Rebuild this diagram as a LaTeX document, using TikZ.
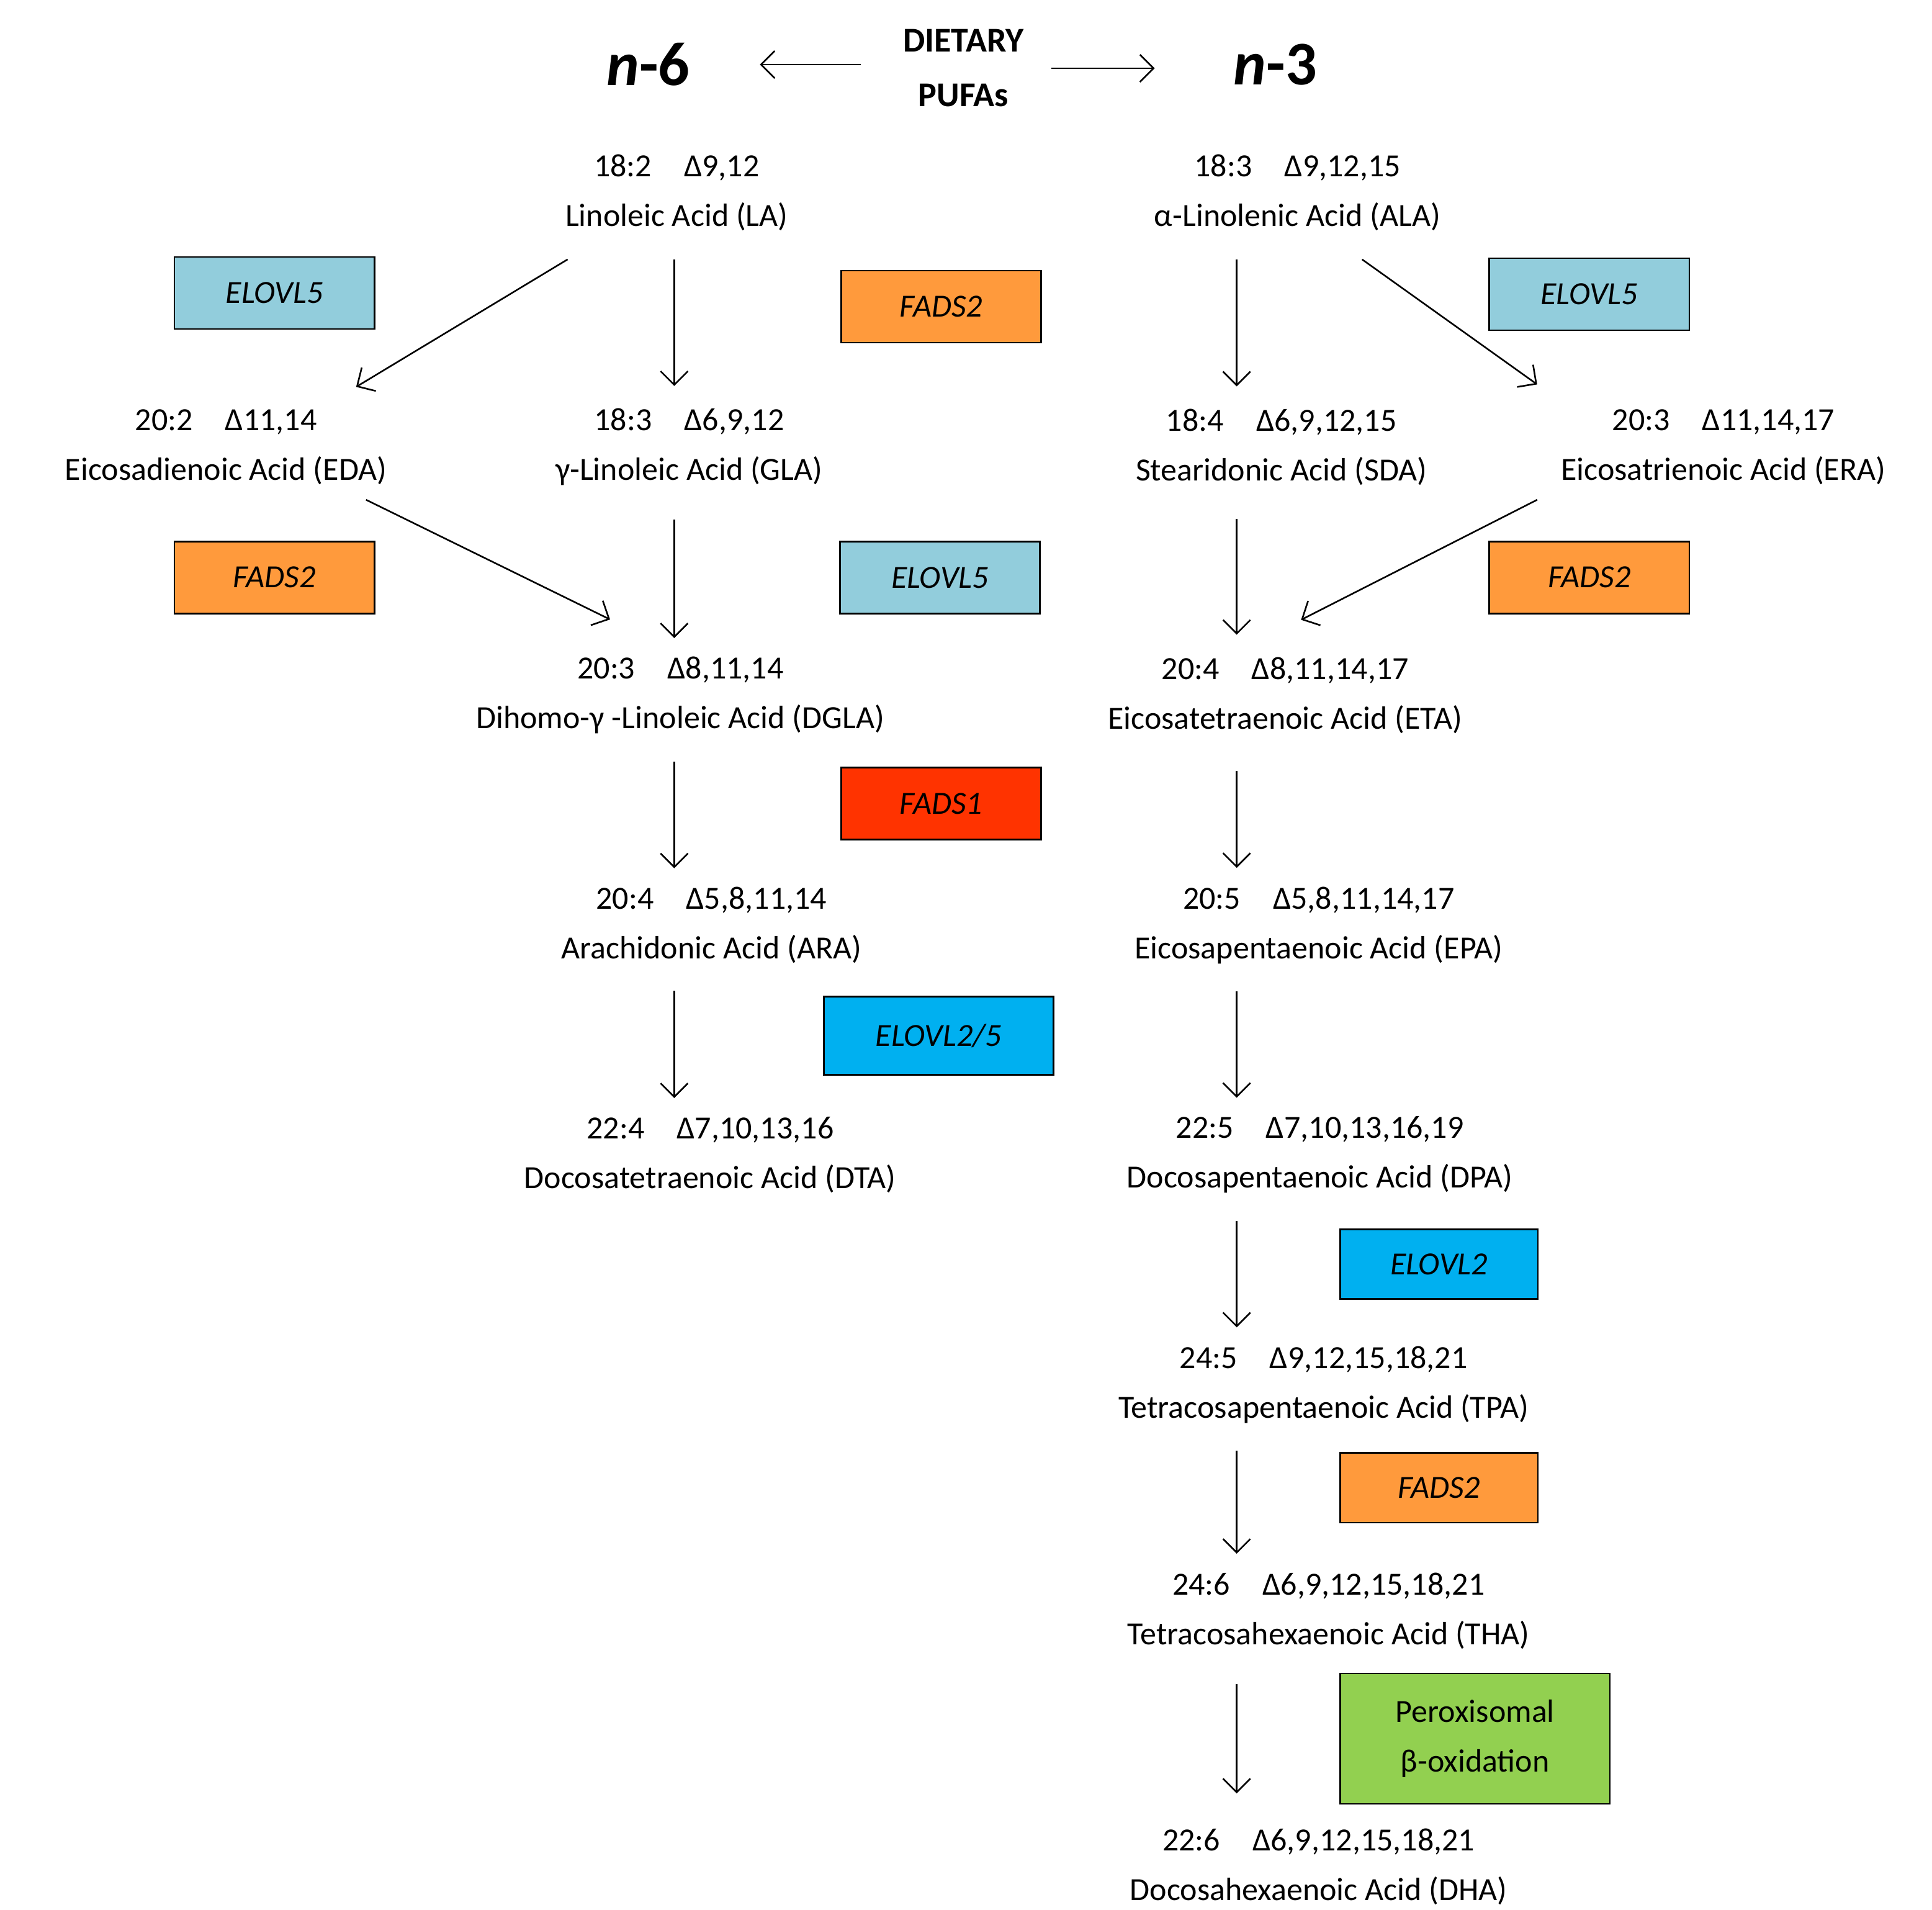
\documentclass[tikz,border=0pt]{standalone}
\usepackage{fontspec}
\setmainfont{Carlito}
\usetikzlibrary{arrows.meta,calc}
\definecolor{lb}{HTML}{92CDDC}
\definecolor{orn}{HTML}{FF9A3C}
\definecolor{rd}{HTML}{FF3300}
\definecolor{cy}{HTML}{00B0F0}
\definecolor{gr}{HTML}{92D050}
\begin{document}
\begin{tikzpicture}[x=1pt,y=-1pt,
  fa/.style={align=center,font=\fontsize{26}{40}\selectfont,inner sep=0pt},
  enz/.style={draw=black,line width=1.3pt,minimum width=161pt,minimum height=58pt,font=\fontsize{26}{34}\selectfont\itshape},
  arr/.style={-{Straight Barb[length=11pt,width=22pt]},line width=1.3pt}]
\useasboundingbox (0,0) rectangle (1556,1538);
\node[font=\fontsize{50}{50}\selectfont\bfseries\itshape] (n6) at (522,52) {n\upshape-6};
\node[font=\fontsize{50}{50}\selectfont\bfseries\itshape] (n3) at (1027,52) {n\upshape-3};
\node[align=center,font=\fontsize{28}{44}\selectfont\bfseries,inner sep=0pt] (diet) at (776,55) {DIETARY\\PUFAs};
\coordinate (d6) at (612,52); \coordinate (d3) at (930,55);
\draw[arr] ($(diet.west)+(-34,-3)$) -- (d6);
\draw[arr] ($(diet.east)+(22,0)$) -- (d3);
% fatty acids
\node[fa] (LA) at (545,155) {18:2\quad Δ9,12\\Linoleic Acid (LA)};
\node[fa] (ALA) at (1045,155) {18:3\quad Δ9,12,15\\α-Linolenic Acid (ALA)};
\node[fa] (EDA) at (182,360) {20:2\quad Δ11,14\\Eicosadienoic Acid (EDA)};
\node[fa] (GLA) at (555,360) {18:3\quad Δ6,9,12\\γ-Linoleic Acid (GLA)};
\node[fa] (SDA) at (1032,360) {18:4\quad Δ6,9,12,15\\Stearidonic Acid (SDA)};
\node[fa] (ERA) at (1388,360) {20:3\quad Δ11,14,17\\Eicosatrienoic Acid (ERA)};
\node[fa] (DGLA) at (548,560) {20:3\quad Δ8,11,14\\Dihomo-γ -Linoleic Acid (DGLA)};
\node[fa] (ETA) at (1035,560) {20:4\quad Δ8,11,14,17\\Eicosatetraenoic Acid (ETA)};
\node[fa] (ARA) at (573,745) {20:4\quad Δ5,8,11,14\\Arachidonic Acid (ARA)};
\node[fa] (EPA) at (1062,745) {20:5\quad Δ5,8,11,14,17\\Eicosapentaenoic Acid (EPA)};
\node[fa] (DTA) at (572,930) {22:4\quad Δ7,10,13,16\\Docosatetraenoic Acid (DTA)};
\node[fa] (DPA) at (1063,930) {22:5\quad Δ7,10,13,16,19\\Docosapentaenoic Acid (DPA)};
\node[fa] (TPA) at (1066,1115) {24:5\quad Δ9,12,15,18,21\\Tetracosapentaenoic Acid (TPA)};
\node[fa] (THA) at (1070,1297) {24:6\quad Δ6,9,12,15,18,21\\Tetracosahexaenoic Acid (THA)};
\node[fa] (DHA) at (1062,1503) {22:6\quad Δ6,9,12,15,18,21\\Docosahexaenoic Acid (DHA)};
% enzymes
\node[enz,fill=lb] (e1) at (221,236) {ELOVL5};
\node[enz,fill=orn] (e2) at (758,247) {FADS2};
\node[enz,fill=lb] (e3) at (1280,237) {ELOVL5};
\node[enz,fill=orn] (e4) at (221,465) {FADS2};
\node[enz,fill=lb] (e5) at (757,465) {ELOVL5};
\node[enz,fill=orn] (e6) at (1280,465) {FADS2};
\node[enz,fill=rd] (e7) at (758,647) {FADS1};
\node[enz,fill=cy,minimum width=185pt,minimum height=63pt] (e8) at (756,834) {ELOVL2/5};
\node[enz,fill=cy,minimum width=159pt,minimum height=56pt] (e9) at (1159,1018) {ELOVL2};
\node[enz,fill=orn,minimum width=159pt,minimum height=56pt] (e10) at (1159,1198) {FADS2};
\node[enz,fill=gr,minimum width=217pt,minimum height=105pt,align=center,font=\fontsize{26}{40}\selectfont] (e11) at (1188,1400) {Peroxisomal\\β-oxidation};
% connectors (node to node, offsets along anchors)
\draw[arr] ($(LA.south west)+(2,23)$) -- ($(EDA.north east)+(-25,-18)$);
\draw[arr] ($(LA.south)+(-2,23)$) -- ($(GLA.north)+(-12,-18)$);
\draw[arr] ($(ALA.south)+(-49,23)$) -- ($(SDA.north)+(-36,-18)$);
\draw[arr] ($(ALA.south)+(52,23)$) -- ($(ERA.north west)+(-19,-20)$);
\draw[arr] ($(EDA.south east)+(-17,12)$) -- ($(DGLA.north west)+(108,-30)$);
\draw[arr] ($(GLA.south)+(-12,27)$) -- ($(DGLA.north)+(-5,-15)$);
\draw[arr] ($(SDA.south)+(-36,27)$) -- ($(ETA.north)+(-39,-18)$);
\draw[arr] ($(ERA.south west)+(-19,12)$) -- ($(ETA.north east)+(-130,-30)$);
\draw[arr] ($(DGLA.south)+(-5,22)$) -- ($(ARA.north)+(-30,-15)$);
\draw[arr] ($(ETA.south)+(-39,30)$) -- ($(EPA.north)+(-66,-15)$);
\draw[arr] ($(ARA.south)+(-30,22)$) -- ($(DTA.north)+(-29,-15)$);
\draw[arr] ($(EPA.south)+(-66,22)$) -- ($(DPA.north)+(-67,-15)$);
\draw[arr] ($(DPA.south)+(-67,22)$) -- ($(TPA.north)+(-70,-15)$);
\draw[arr] ($(TPA.south)+(-70,22)$) -- ($(THA.north)+(-74,-15)$);
\draw[arr] ($(THA.south)+(-74,28)$) -- ($(DHA.north)+(-66,-28)$);
\end{tikzpicture}
\end{document}
